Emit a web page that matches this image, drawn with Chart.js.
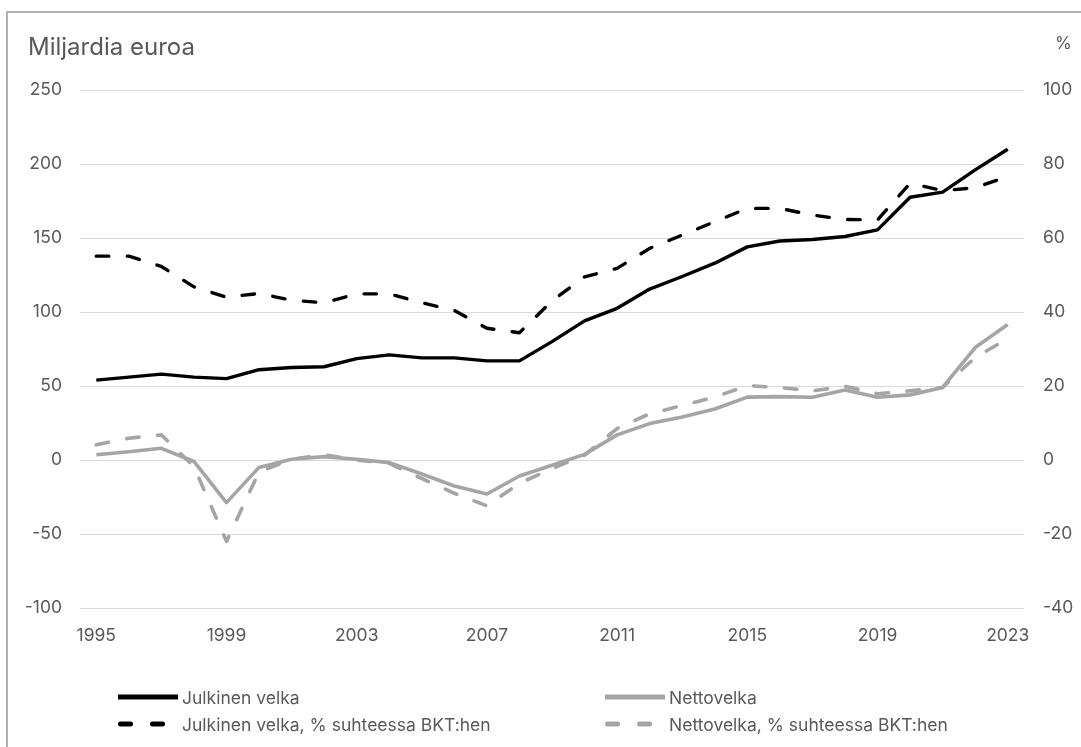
<!DOCTYPE html>
<html>
<head>
<meta charset="utf-8">
<script src="https://cdn.jsdelivr.net/npm/chart.js@4.4.1/dist/chart.umd.min.js"></script>
<style>
    body {
        margin: 0;
        background: #fff;
        width: 1081px;
        height: 747px;
        overflow: hidden;
        position: relative;
        font-family: Inter, 'Open Sans', sans-serif;
        color: #595959;
    }
    #frame {
        position: absolute;
        left: 6px;
        top: 11px;
        width: 1200px;
        height: 800px;
        border-left: 2px solid #b0b0b0;
        border-top: 2px solid #b0b0b0;
    }
    #wrap {
        position: absolute;
        left: 0;
        top: 0;
        width: 1081px;
        height: 747px;
    }
    .axis-title {
        position: absolute;
        white-space: nowrap;
        line-height: 1;
    }
    #title-left { left: 28px; top: 35px; font-size: 24px; }
    #title-right { left: 1055px; top: 35px; font-size: 17px; }
    .legend-item {
        position: absolute;
        height: 20px;
        display: flex;
        align-items: center;
        white-space: nowrap;
        font-size: 17.5px;
    }
    .legend-item svg { flex: none; }
</style>
</head>
<body>
<div id="frame"></div>
<div id="wrap"><canvas id="chart" width="1081" height="747"></canvas></div>
<div class="axis-title" id="title-left">Miljardia euroa</div>
<div class="axis-title" id="title-right">%</div>
<div id="legend"></div>
<script>
// ============================================
// DATA
// ============================================

const years = [];
for (let y = 1995; y <= 2023; y++) years.push(String(y));

// Miljardia euroa (vasen akseli)
const julkinenVelka = [
    54, 56, 58, 56, 55, 61, 62.5, 63, 68.5, 71,
    69, 69, 67, 67, 80, 94, 102.5, 115.5, 124, 133,
    144, 148, 149, 151, 155.5, 177.5, 181, 196, 210
];
const nettovelka = [
    3.6, 5.6, 7.9, -1, -28.8, -5, 0.5, 2.3, 0.5, -1.8,
    -9.5, -17.6, -23, -10.8, -3.6, 3.8, 17, 24.6, 29, 34.5,
    42.5, 42.8, 42.4, 47.3, 42.4, 44, 49, 76, 91.5
];

// % suhteessa BKT:hen (oikea akseli)
const julkinenVelkaPct = [
    55.1, 55.1, 52.3, 46.8, 44, 45, 43.2, 42.5, 44.9, 44.9,
    42.5, 40.4, 35.6, 34.4, 43, 49.5, 51.8, 57.2, 60.8, 64.4,
    68, 68, 66.2, 65, 64.9, 74.8, 72.8, 73.6, 76.6
];
const nettovelkaPct = [
    4.1, 5.9, 6.8, -1.8, -22, -3.2, 0.2, 1.4, 0, -0.9,
    -5, -9, -12.4, -6.3, -2.3, 1.3, 8.5, 12.5, 14.7, 17,
    20.1, 19.6, 18.7, 19.9, 17.9, 18.7, 19.6, 27.7, 32.8
];

const leftTicks = { min: -100, max: 250, step: 50 };
const rightTicks = { min: -40, max: 100, step: 20 };

// ============================================
// STYLES
// ============================================

const BLACK = '#000000';
const GRAY = '#a5a5a5';
const TEXT = '#595959';
const FONT = "Inter, 'Open Sans', sans-serif";
const DASH = [12.5, 18.5];

// ============================================
// CHART
// ============================================

const ctx = document.getElementById('chart').getContext('2d');

const chart = new Chart(ctx, {
    type: 'line',
    data: {
        labels: years,
        datasets: [
            {
                label: 'Julkinen velka',
                data: julkinenVelka,
                yAxisID: 'y',
                borderColor: BLACK,
                borderWidth: 3.4
            },
            {
                label: 'Nettovelka',
                data: nettovelka,
                yAxisID: 'y',
                borderColor: GRAY,
                borderWidth: 3.6
            },
            {
                label: 'Julkinen velka, % suhteessa BKT:hen',
                data: julkinenVelkaPct,
                yAxisID: 'y1',
                borderColor: BLACK,
                borderWidth: 3.4,
                borderDash: DASH,
                borderCapStyle: 'round'
            },
            {
                label: 'Nettovelka, % suhteessa BKT:hen',
                data: nettovelkaPct,
                yAxisID: 'y1',
                borderColor: GRAY,
                borderWidth: 3.6,
                borderDash: DASH,
                borderCapStyle: 'round'
            }
        ]
    },
    options: {
        responsive: false,
        animation: false,
        events: [],
        elements: {
            point: { radius: 0 },
            line: { tension: 0, fill: false, borderJoinStyle: 'round' }
        },
        layout: {
            padding: { top: 90, bottom: 89, left: 0, right: 0 }
        },
        plugins: {
            legend: { display: false },
            tooltip: { enabled: false }
        },
        scales: {
            x: {
                offset: true,
                grid: { display: false, drawTicks: false },
                border: { display: false },
                ticks: {
                    autoSkip: false,
                    maxRotation: 0,
                    color: TEXT,
                    font: { family: FONT, size: 17.5 },
                    padding: 17,
                    callback: function(value, index) {
                        return index % 4 === 0 ? this.getLabelForValue(value) : '';
                    }
                },
                afterFit: function(scale) { scale.height = 50; }
            },
            y: {
                position: 'left',
                min: leftTicks.min,
                max: leftTicks.max,
                ticks: {
                    stepSize: leftTicks.step,
                    color: TEXT,
                    font: { family: FONT, size: 17.5 },
                    padding: 18
                },
                grid: { color: '#d9d9d9', lineWidth: 1, drawTicks: false },
                border: { display: false },
                afterFit: function(scale) { scale.width = 80; }
            },
            y1: {
                position: 'right',
                min: rightTicks.min,
                max: rightTicks.max,
                ticks: {
                    stepSize: rightTicks.step,
                    color: TEXT,
                    font: { family: FONT, size: 17.5 },
                    padding: 19
                },
                grid: { display: false, drawTicks: false },
                border: { display: false },
                afterFit: function(scale) { scale.width = 57; }
            }
        }
    }
});

// ============================================
// HTML LEGEND
// ============================================

function buildLegend(chart) {
    const legend = document.getElementById('legend');
    const cols = [118, 605];
    const rows = [697, 724];
    chart.data.datasets.forEach((ds, i) => {
        const item = document.createElement('div');
        item.className = 'legend-item';
        item.style.left = cols[i % 2] + 'px';
        item.style.top = (rows[Math.floor(i / 2)] - 10) + 'px';
        const dashed = ds.borderDash && ds.borderDash.length;
        const line = dashed
            ? '<line x1="2.5" y1="10" x2="48" y2="10" stroke-dasharray="10 22" stroke-linecap="round"'
            : '<line x1="0" y1="10" x2="60" y2="10"';
        item.innerHTML = `<svg width="64" height="20">${line} stroke="${ds.borderColor}" stroke-width="5" /></svg>`
            + '<span>' + ds.label + '</span>';
        legend.appendChild(item);
    });
}

buildLegend(chart);
</script>
</body>
</html>
